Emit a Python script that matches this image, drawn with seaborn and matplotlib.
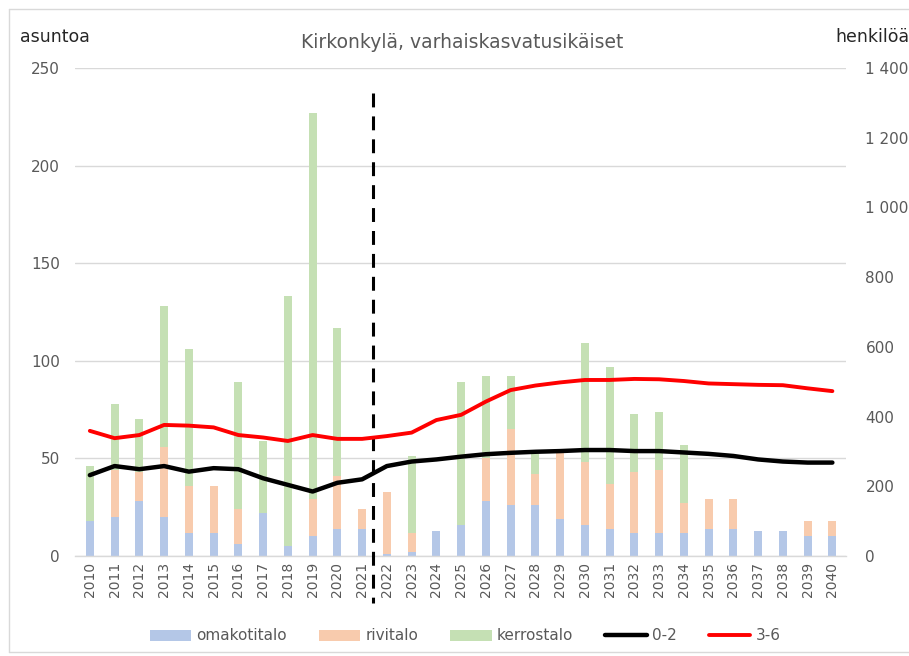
import matplotlib
matplotlib.use("Agg")
import matplotlib.pyplot as plt
import matplotlib.transforms as mtransforms
from matplotlib.patches import Patch
from matplotlib.lines import Line2D
import seaborn as sns
import numpy as np
import pandas as pd

# ---------------- data ----------------
years = [str(y) for y in range(2010, 2041)]
omakotitalo = [18, 20, 28, 20, 12, 12, 6, 22, 5, 10, 14, 14,
               1, 2, 13, 16, 28, 26, 26, 19, 16, 14, 12, 12, 12, 14, 14, 13, 13, 10, 10]
rivitalo = [0, 24, 15, 36, 24, 24, 18, 0, 0, 19, 27, 10,
            32, 10, 0, 0, 22, 39, 16, 34, 32, 23, 31, 32, 15, 15, 15, 0, 0, 8, 8]
kerrostalo = [28, 34, 27, 72, 70, 0, 65, 37, 128, 198, 76, 0,
              0, 39, 0, 73, 42, 27, 10, 0, 61, 60, 30, 30, 30, 0, 0, 0, 0, 0, 0]
age_0_2 = [232, 258, 249, 258, 242, 252, 249, 223, 204, 185, 210, 220,
           258, 271, 277, 285, 292, 296, 299, 301, 304, 304, 301, 301, 297, 293, 287, 277, 271, 268, 268]
age_3_6 = [359, 338, 347, 376, 374, 369, 347, 340, 330, 347, 336, 336,
           344, 354, 390, 405, 443, 476, 489, 498, 505, 505, 508, 507, 502, 495, 493, 491, 490, 481, 473]
left_ticks = [0, 50, 100, 150, 200, 250]
right_ticks = [0, 200, 400, 600, 800, 1000, 1200, 1400]
right_labels = ["0", "200", "400", "600", "800", "1 000", "1 200", "1 400"]

C_BLUE = "#B4C7E7"
C_ORANGE = "#F8CBAD"
C_GREEN = "#C5E0B4"
TXT = "#595959"

sns.set_theme(style="white")
plt.rcParams['font.family'] = ['DejaVu Sans']
plt.rcParams['lines.scale_dashes'] = False

W, H = 909, 656
fig = plt.figure(figsize=(W / 100, H / 100), dpi=100)
fig.patch.set_facecolor("white")
ax = fig.add_axes([75 / W, 1 - 556 / H, (846 - 75) / W, (556 - 68) / H])

df = pd.DataFrame({"year": years, "omakotitalo": omakotitalo,
                   "rivitalo": rivitalo, "kerrostalo": kerrostalo})
b1 = np.array(omakotitalo, dtype=float)
b2 = b1 + np.array(rivitalo, dtype=float)

bw = 0.33
sns.barplot(data=df, x="year", y="omakotitalo", color=C_BLUE, saturation=1,
            width=bw, errorbar=None, ax=ax, linewidth=0)
sns.barplot(data=df, x="year", y="rivitalo", color=C_ORANGE, saturation=1,
            width=bw, errorbar=None, ax=ax, bottom=b1, linewidth=0)
sns.barplot(data=df, x="year", y="kerrostalo", color=C_GREEN, saturation=1,
            width=bw, errorbar=None, ax=ax, bottom=b2, linewidth=0)

ax.set_ylim(0, 250)
ax.set_yticks(left_ticks)
ax.set_yticklabels([str(t) for t in left_ticks])
ax.set_xlabel("")
ax.set_ylabel("")
ax.yaxis.grid(True, color="#D9D9D9", linewidth=1)
ax.set_axisbelow(True)
for s in ["left", "right", "top"]:
    ax.spines[s].set_visible(False)
ax.spines["bottom"].set_color("#D9D9D9")
ax.spines["bottom"].set_linewidth(1)
ax.tick_params(axis="y", length=0, pad=11, labelsize=11, labelcolor=TXT)
ax.tick_params(axis="x", length=0, pad=4, labelsize=10, labelcolor=TXT, rotation=90)

ax2 = ax.twinx()
x = np.arange(len(years))
sns.lineplot(x=x, y=age_0_2, ax=ax2, color="black", linewidth=3.2, legend=False)
sns.lineplot(x=x, y=age_3_6, ax=ax2, color="#FF0000", linewidth=2.8, legend=False)
ax2.set_ylim(0, 1400)
ax2.set_yticks(right_ticks)
ax2.set_yticklabels(right_labels)
ax2.set_ylabel("")
ax2.grid(False)
for s in ax2.spines.values():
    s.set_visible(False)
ax2.tick_params(axis="y", length=0, pad=14, labelsize=11, labelcolor=TXT)
ax.set_xlim(-0.6, 30.55)

# dashed divider between history and forecast
trans = mtransforms.blended_transform_factory(ax.transData, ax.transAxes)
ax.add_line(Line2D([11.45, 11.45], [(556 - 93) / 488, (556 - 603) / 488],
                   transform=trans, color="black", linewidth=2.2,
                   linestyle=(0, (10, 6.5)), clip_on=False, zorder=5))

# texts
fig.text(462 / W, 1 - 42 / H, "Kirkonkylä, varhaiskasvatusikäiset",
         ha="center", va="center", fontsize=13.5, color=TXT)
fig.text(20 / W, 1 - 37 / H, "asuntoa", ha="left", va="center",
         fontsize=12.5, color="#262626")
fig.text(835 / W, 1 - 37 / H, "henkilöä", ha="left", va="center",
         fontsize=12.5, color="#262626")

handles = [Patch(facecolor=C_BLUE, edgecolor="none"),
           Patch(facecolor=C_ORANGE, edgecolor="none"),
           Patch(facecolor=C_GREEN, edgecolor="none"),
           Line2D([], [], color="black", linewidth=3.2),
           Line2D([], [], color="#FF0000", linewidth=2.8)]
labels = ["omakotitalo", "rivitalo", "kerrostalo", "0-2", "3-6"]
fig.legend(handles, labels, loc="center", bbox_to_anchor=(465 / W, 1 - 636 / H),
           ncol=5, frameon=False, fontsize=11, handlelength=2.7,
           handleheight=0.7, handletextpad=0.35, columnspacing=2.1,
           labelcolor=TXT)

# chart frame
fc = "#D9D9D9"
fig.add_artist(Line2D([9 / W, 9 / W], [1 - 9 / H, 1 - 652 / H], color=fc, lw=1, transform=fig.transFigure))
fig.add_artist(Line2D([9 / W, 1], [1 - 9 / H, 1 - 9 / H], color=fc, lw=1, transform=fig.transFigure))
fig.add_artist(Line2D([9 / W, 1], [1 - 652 / H, 1 - 652 / H], color=fc, lw=1, transform=fig.transFigure))

fig.savefig("out.png", dpi=100)
